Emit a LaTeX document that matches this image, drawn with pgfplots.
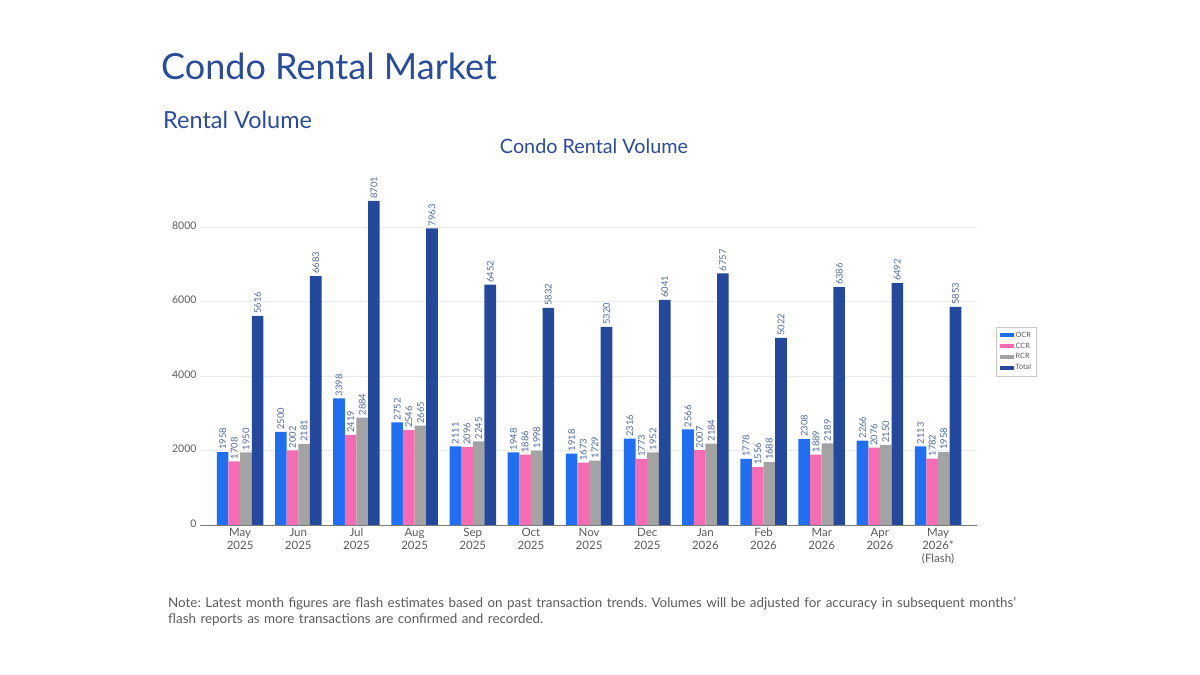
\documentclass[border=0pt]{standalone}
\usepackage{pgfplots}
\pgfplotsset{compat=1.18}
\usepackage{fontspec}
\setmainfont{Lato}

\definecolor{titleblue}{HTML}{2B4C9B}
\definecolor{ocr}{HTML}{1F6FF2}
\definecolor{ccr}{HTML}{F76BB3}
\definecolor{rcr}{HTML}{A3A3A3}
\definecolor{total}{HTML}{24489C}
\definecolor{lbl}{HTML}{51699B}
\definecolor{tick}{HTML}{5A5A5A}
\definecolor{gridc}{HTML}{EBEBEB}

% Monthly condo rental volume by region
\pgfplotstableread{
x ocr  ccr  rcr  total
0  1958 1708 1950 5616
1  2500 2002 2181 6683
2  3398 2419 2884 8701
3  2752 2546 2665 7963
4  2111 2096 2245 6452
5  1948 1886 1998 5832
6  1918 1673 1729 5320
7  2316 1773 1952 6041
8  2566 2007 2184 6757
9  1778 1556 1688 5022
10 2308 1889 2189 6386
11 2266 2076 2150 6492
12 2113 1782 1958 5853
}\rentals

\begin{document}
\frenchspacing
\begin{tikzpicture}[x=1pt,y=1pt]
\path (0,0) rectangle (1200,675);
\node[anchor=base west, text=titleblue, font=\fontsize{36}{42}\selectfont, inner sep=0pt] at (161,595) {Condo Rental Market};
\node[anchor=base west, text=titleblue, font=\fontsize{23.5}{28}\selectfont, inner sep=0pt] at (163,546) {Rental Volume};
\node[anchor=base, text=titleblue, font=\fontsize{19.8}{23}\selectfont, inner sep=0pt] at (594,521) {Condo Rental Volume};
\node[anchor=base west, text=tick, font=\fontsize{13.4}{16}\selectfont, inner sep=0pt, align=left, text width=900pt] at (168,67) {Note: Latest month figures are flash estimates based on past transaction trends. Volumes will be adjusted for accuracy in subsequent months'\\flash reports as more transactions are confirmed and recorded.};
\begin{axis}[
  at={(200pt,150pt)}, anchor=south west,
  scale only axis, width=777pt, height=350pt,
  xmin=-0.69, xmax=12.67, ymin=0, ymax=9396,
  ybar=0pt, bar width=0.2,
  separate axis lines,
  axis x line*=bottom,
  x axis line style={draw=tick!80, line width=0.8pt, -},
  y axis line style={draw=none},
  ytick={0,2000,4000,6000,8000},
  ymajorgrids,
  major grid style={draw=gridc, line width=0.6pt},
  xtick=data,
  xticklabels={{May\\2025},{Jun\\2025},{Jul\\2025},{Aug\\2025},{Sep\\2025},{Oct\\2025},{Nov\\2025},{Dec\\2025},{Jan\\2026},{Feb\\2026},{Mar\\2026},{Apr\\2026},{May\\2026*\\(Flash)}},
  typeset ticklabels with strut,
  xticklabel style={align=center, anchor=north, font=\fontsize{11.5}{13}\selectfont, text=tick, inner sep=2pt},
  yticklabel style={font=\fontsize{10.5}{12}\selectfont, text=tick},
  major tick length=0pt,
  /pgf/number format/assume math mode=true,
  /pgf/number format/1000 sep={},
  nodes near coords,
  every node near coord/.append style={rotate=90, anchor=west, inner sep=2pt, font=\fontsize{9.4}{10}\selectfont, text=lbl},
  legend style={at={(1.025,0.566)}, anchor=north west, draw=gridc!70!gray, font=\fontsize{7.3}{8}\selectfont, text=tick, row sep=0pt, inner sep=3pt},
  legend cell align=left,
  legend image code/.code={\fill[#1] (0pt,-2pt) rectangle (14pt,2pt);},
]
\addplot[fill=ocr, draw=none] table[x=x, y=ocr] {\rentals};
\addplot[fill=ccr, draw=none] table[x=x, y=ccr] {\rentals};
\addplot[fill=rcr, draw=none] table[x=x, y=rcr] {\rentals};
\addplot[fill=total, draw=none] table[x=x, y=total] {\rentals};
\legend{OCR, CCR, RCR, Total}
\end{axis}
\end{tikzpicture}
\end{document}
